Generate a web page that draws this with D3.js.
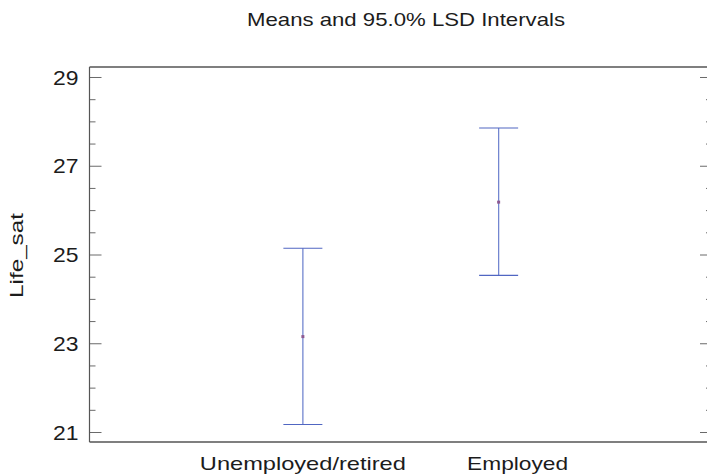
<!DOCTYPE html>
<html>
<head>
<meta charset="utf-8">
<script src="https://cdn.jsdelivr.net/npm/d3@7"></script>
<style>
  html, body { margin: 0; padding: 0; background: #fff; }
  svg { display: block; font-family: "Liberation Sans", Arial, Helvetica, sans-serif; }
</style>
</head>
<body>
<svg id="chart" width="707" height="476"></svg>
<script>
// Group means of Life_sat with 95.0% LSD interval limits
const categories = ["Unemployed/retired", "Employed"];
const means = [23.15, 26.18];
const lowerLimits = [21.17, 24.53];
const upperLimits = [25.14, 27.85];
const yTickLabels = [21, 23, 25, 27, 29];
const titleText = "Means and 95.0% LSD Intervals";
const yAxisTitle = "Life_sat";

const svg = d3.select("#chart");
const plot = { left: 89.5, right: 712, top: 67, bottom: 442 };

const x = d3.scaleLinear().domain([-0.09, 3.09]).range([plot.left, plot.right]);
const y = d3.scaleLinear().domain([20.775, 29.225]).range([plot.bottom, plot.top]);

const minorTicks = d3.range(21, 29.01, 0.5).filter(v => !yTickLabels.includes(v));
const textColor = "#1c1c1c";

// left axis: long ticks at labelled values, short ones every half unit
const leftAxis = d3.axisRight(y).tickValues(yTickLabels).tickSize(12).tickFormat("");
const gL = svg.append("g").attr("transform", `translate(${plot.left},0)`).call(leftAxis);
const leftMinor = d3.axisRight(y).tickValues(minorTicks).tickSize(6).tickFormat("");
const gLm = svg.append("g").attr("transform", `translate(${plot.left},0)`).call(leftMinor);

// right axis mirrors the tick marks, pointing inward
const rightAxis = d3.axisLeft(y).tickValues(yTickLabels).tickSize(12).tickFormat("");
const gR = svg.append("g").attr("transform", `translate(${plot.right},0)`).call(rightAxis);
const rightMinor = d3.axisLeft(y).tickValues(minorTicks).tickSize(6).tickFormat("");
const gRm = svg.append("g").attr("transform", `translate(${plot.right},0)`).call(rightMinor);

[gL, gLm, gR, gRm].forEach(g => {
  g.select(".domain").remove();
  g.selectAll(".tick line").attr("stroke", "#6a6a6a").attr("stroke-width", 1);
});

// frame: left axis line plus top and bottom borders
svg.append("line")
  .attr("x1", plot.left).attr("x2", plot.left)
  .attr("y1", plot.top).attr("y2", plot.bottom)
  .attr("stroke", "#555").attr("stroke-width", 1.2);
[plot.top, plot.bottom].forEach(py => {
  svg.append("line")
    .attr("x1", plot.left).attr("x2", plot.right)
    .attr("y1", py).attr("y2", py)
    .attr("stroke", "#555").attr("stroke-width", 1.4);
});

// y tick labels
svg.append("g").selectAll("text")
  .data(yTickLabels)
  .join("text")
  .attr("x", plot.left - 11)
  .attr("y", d => y(d))
  .attr("dy", "0.36em")
  .attr("text-anchor", "end")
  .attr("font-size", 21)
  .attr("fill", textColor)
  .attr("textLength", 25.5)
  .attr("lengthAdjust", "spacingAndGlyphs")
  .text(d => d);

// interval bars
const idx = d3.range(categories.length);
const capHalf = 19.5;
const barColor = "#5066c2";
const bars = svg.append("g");
bars.selectAll("line.stem")
  .data(idx)
  .join("line")
  .attr("class", "stem")
  .attr("x1", i => x(i + 1)).attr("x2", i => x(i + 1))
  .attr("y1", i => y(upperLimits[i])).attr("y2", i => y(lowerLimits[i]))
  .attr("stroke", "#7386d0").attr("stroke-width", 1.3);
bars.selectAll("line.capTop")
  .data(idx)
  .join("line")
  .attr("class", "capTop")
  .attr("x1", i => x(i + 1) - capHalf).attr("x2", i => x(i + 1) + capHalf)
  .attr("y1", i => y(upperLimits[i])).attr("y2", i => y(upperLimits[i]))
  .attr("stroke", barColor).attr("stroke-width", 1.1);
bars.selectAll("line.capBot")
  .data(idx)
  .join("line")
  .attr("class", "capBot")
  .attr("x1", i => x(i + 1) - capHalf).attr("x2", i => x(i + 1) + capHalf)
  .attr("y1", i => y(lowerLimits[i])).attr("y2", i => y(lowerLimits[i]))
  .attr("stroke", barColor).attr("stroke-width", 1.1);

// mean markers
bars.selectAll("rect.mean")
  .data(idx)
  .join("rect")
  .attr("class", "mean")
  .attr("x", i => x(i + 1) - 1.5)
  .attr("y", i => y(means[i]) - 1.5)
  .attr("width", 3).attr("height", 3)
  .attr("fill", "#8e5a92");

// category labels
const labelShift = [0, 19];
const labelWidths = [206, 101];
svg.append("g").selectAll("text")
  .data(idx)
  .join("text")
  .attr("x", i => x(i + 1) + labelShift[i])
  .attr("y", 470)
  .attr("text-anchor", "middle")
  .attr("font-size", 18.5)
  .attr("fill", textColor)
  .attr("textLength", i => labelWidths[i])
  .attr("lengthAdjust", "spacingAndGlyphs")
  .text(i => categories[i]);

// title
svg.append("text")
  .attr("x", 406).attr("y", 26)
  .attr("text-anchor", "middle")
  .attr("font-size", 18.5)
  .attr("fill", textColor)
  .attr("textLength", 318)
  .attr("lengthAdjust", "spacingAndGlyphs")
  .text(titleText);

// y axis title
svg.append("text")
  .attr("transform", "translate(23,255.5) rotate(-90)")
  .attr("text-anchor", "middle")
  .attr("font-size", 18.5)
  .attr("fill", textColor)
  .attr("textLength", 85)
  .attr("lengthAdjust", "spacingAndGlyphs")
  .text(yAxisTitle);
</script>
</body>
</html>
